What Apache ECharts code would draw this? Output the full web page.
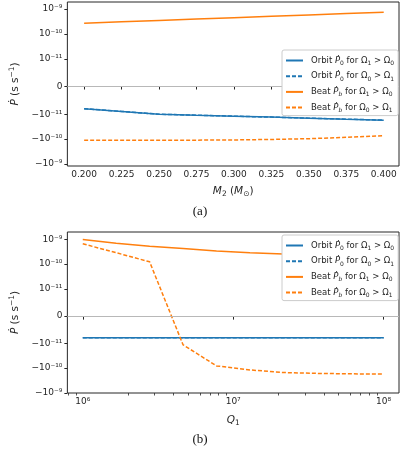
<!DOCTYPE html>
<html>
<head>
<meta charset="utf-8">
<script src="https://cdn.jsdelivr.net/npm/echarts@6/dist/echarts.min.js"></script>
<style>
html, body { margin: 0; padding: 0; background: #fff; }
#chart { width: 400px; height: 453px; }
</style>
</head>
<body>
<div id="chart"></div>
<script>
// panel (a): Pdot against M2
const m2 = [0.2, 0.225, 0.25, 0.275, 0.3, 0.325, 0.35, 0.375, 0.4];
const orbitA1 = [-8.0e-12, -9.0e-12, -1.0e-11, -1.1e-11, -1.2e-11, -1.31e-11, -1.44e-11, -1.58e-11, -1.73e-11];
const orbitA0 = [-8.0e-12, -9.0e-12, -1.0e-11, -1.1e-11, -1.2e-11, -1.31e-11, -1.44e-11, -1.58e-11, -1.73e-11];
const beatA1 = [2.7e-10, 3.06e-10, 3.48e-10, 3.95e-10, 4.48e-10, 5.09e-10, 5.77e-10, 6.55e-10, 7.4e-10];
const beatA0 = [-1.1e-10, -1.1e-10, -1.11e-10, -1.1e-10, -1.08e-10, -1.03e-10, -9.6e-11, -8.5e-11, -7.3e-11];

// panel (b): Pdot against Q1
const q1 = [1e6, 1.668e6, 2.783e6, 4.642e6, 7.743e6, 1.292e7, 2.154e7, 3.594e7, 5.995e7, 1e8];
const orbitB1 = [-7.9e-12, -7.9e-12, -7.9e-12, -7.9e-12, -7.9e-12, -7.9e-12, -7.9e-12, -7.9e-12, -7.9e-12, -7.9e-12];
const orbitB0 = [-7.9e-12, -7.9e-12, -7.9e-12, -7.9e-12, -7.9e-12, -7.9e-12, -7.9e-12, -7.9e-12, -7.9e-12, -7.9e-12];
const beatB1 = [1.0e-9, 7.0e-10, 5.3e-10, 4.3e-10, 3.4e-10, 2.9e-10, 2.6e-10, 2.35e-10, 2.2e-10, 2.05e-10];
const beatB0 = [6.7e-10, 2.9e-10, 1.24e-10, -1.13e-11, -8.1e-11, -1.18e-10, -1.51e-10, -1.63e-10, -1.7e-10, -1.74e-10];

// tick labels
const m2Ticks = [0.2, 0.225, 0.25, 0.275, 0.3, 0.325, 0.35, 0.375, 0.4];
const q1Ticks = [1e6, 1e7, 1e8];
const q1TickLabels = ['10⁶', '10⁷', '10⁸'];
const q1Minor = [8e5, 9e5, 2e6, 3e6, 4e6, 5e6, 6e6, 7e6, 8e6, 9e6, 2e7, 3e7, 4e7, 5e7, 6e7, 7e7, 8e7, 9e7];
const yTicks = [-1e-9, -1e-10, -1e-11, 0, 1e-11, 1e-10, 1e-9];
const yTickLabels = ['−10⁻⁹', '−10⁻¹⁰', '−10⁻¹¹', '0', '10⁻¹¹', '10⁻¹⁰', '10⁻⁹'];

// matplotlib style symlog, linthresh 1e-11, linscale 1
const LIN = 1e-11, LSC = 1 / 0.9;
function symlog(v) {
    const a = Math.abs(v);
    if (a <= LIN) return v / LIN * LSC;
    return Math.sign(v) * (LSC + Math.log10(a / LIN));
}
const yPos = yTicks.map(symlog);

const BLUE = '#1f77b4', ORANGE = '#ff7f0e', INK = '#262626';
const FONT = 'DejaVu Sans';

const rich = {
    t: { fontFamily: FONT, fontSize: 8.5, color: INK, lineHeight: 12 },
    i: { fontFamily: FONT, fontSize: 8.5, color: INK, lineHeight: 12, fontStyle: 'italic' },
    s: { fontFamily: FONT, fontSize: 6, color: INK, lineHeight: 6, verticalAlign: 'bottom' },
    si: { fontFamily: FONT, fontSize: 6, color: INK, lineHeight: 6, verticalAlign: 'bottom', fontStyle: 'italic' }
};
const legendText = {
    'orbit1': '{t|Orbit }{i|Ṗ}{s|0}{t| for Ω}{s|1}{t| > Ω}{s|0}',
    'orbit0': '{t|Orbit }{i|Ṗ}{s|0}{t| for Ω}{s|0}{t| > Ω}{s|1}',
    'beat1': '{t|Beat }{i|Ṗ}{si|b}{t| for Ω}{s|1}{t| > Ω}{s|0}',
    'beat0': '{t|Beat }{i|Ṗ}{si|b}{t| for Ω}{s|0}{t| > Ω}{s|1}'
};

const nameRich = {
    t: { fontFamily: FONT, fontSize: 10.5, color: INK, lineHeight: 14 },
    i: { fontFamily: FONT, fontSize: 10.5, color: INK, lineHeight: 14, fontStyle: 'italic' },
    s: { fontFamily: FONT, fontSize: 7.5, color: INK, lineHeight: 8, verticalAlign: 'bottom' },
    sup: { fontFamily: FONT, fontSize: 7.5, color: INK, lineHeight: 8, verticalAlign: 'top' }
};

function line(name, xs, ys, color, dashed, idx) {
    return {
        type: 'line', name: name, xAxisIndex: idx, yAxisIndex: idx,
        data: xs.map((x, k) => [x, symlog(ys[k])]),
        symbol: 'none', animation: false,
        lineStyle: { color: color, width: 1.5, type: dashed ? [4, 2] : 'solid' },
        itemStyle: { color: color }
    };
}

function zeroLine(s) {
    s.markLine = {
        silent: true, symbol: 'none', animation: false,
        label: { show: false },
        lineStyle: { color: '#b8b8b8', width: 1.2, type: 'solid' },
        data: [{ yAxis: 0 }]
    };
    return s;
}

function yAxis(idx, min, max) {
    return {
        type: 'value', gridIndex: idx, min: min, max: max,
        name: '{i|Ṗ}{t| (s s}{sup|−1}{t|)}',
        nameLocation: 'middle', nameGap: 41, nameRotate: 90,
        nameTextStyle: { rich: nameRich },
        axisLine: { show: false },
        splitLine: { show: false },
        axisTick: { customValues: yPos, length: 3, lineStyle: { color: INK } },
        axisLabel: {
            customValues: yPos, margin: 5, fontFamily: FONT, fontSize: 9, color: INK,
            formatter: v => {
                const k = yPos.findIndex(p => Math.abs(p - v) < 1e-6);
                return k < 0 ? '' : yTickLabels[k];
            }
        }
    };
}

function legend(top) {
    return {
        orient: 'vertical', left: 282, top: top, z: 10,
        data: ['orbit1', 'orbit0', 'beat1', 'beat0'],
        itemWidth: 17, itemHeight: 1, itemGap: 5.2,
        itemStyle: { opacity: 0 },
        padding: [6, 4, 2, 3],
        borderColor: '#cccccc', borderWidth: 1, borderRadius: 2,
        backgroundColor: '#ffffff',
        formatter: n => legendText[n],
        textStyle: { rich: rich, padding: [0, 0, 0, 3] }
    };
}

const chart = echarts.init(document.getElementById('chart'), null, { renderer: 'canvas' });
chart.setOption({
    backgroundColor: '#fff',
    animation: false,
    grid: [
        { left: 52, top: 2, width: 347, height: 164, show: true, borderColor: INK, borderWidth: 1, backgroundColor: 'transparent' },
        { left: 54, top: 232, width: 345, height: 161, show: true, borderColor: INK, borderWidth: 1, backgroundColor: 'transparent' }
    ],
    xAxis: [
        {
            type: 'value', gridIndex: 0, min: 0.1888, max: 0.4102, position: 'bottom',
            name: '{i|M}{s|2}{t| (}{i|M}{s|⊙}{t|)}', nameLocation: 'middle', nameGap: 18,
            nameTextStyle: { rich: nameRich },
            axisLine: { show: false }, splitLine: { show: false },
            axisTick: { customValues: m2Ticks, length: 3, lineStyle: { color: INK } },
            axisLabel: { customValues: m2Ticks, margin: 4, fontFamily: FONT, fontSize: 9, color: INK, formatter: v => v.toFixed(3) }
        },
        {
            type: 'log', logBase: 10, gridIndex: 1, min: 7.9e5, max: 1.265e8, position: 'bottom',
            name: '{i|Q}{s|1}', nameLocation: 'middle', nameGap: 20,
            nameTextStyle: { rich: nameRich },
            axisLine: { show: false }, splitLine: { show: false }, minorTick: { show: false },
            axisTick: { customValues: q1Ticks, length: 3.5, lineStyle: { color: INK } },
            axisLabel: {
                customValues: q1Ticks, margin: 4, fontFamily: FONT, fontSize: 9, color: INK,
                formatter: v => {
                    const k = q1Ticks.findIndex(p => Math.abs(Math.log10(p) - Math.log10(v)) < 1e-6);
                    return k < 0 ? '' : q1TickLabels[k];
                }
            }
        },
        {
            type: 'log', logBase: 10, gridIndex: 1, min: 7.9e5, max: 1.265e8, position: 'bottom',
            axisLine: { show: false }, splitLine: { show: false },
            axisLabel: { show: false },
            axisTick: { customValues: q1Minor, length: 2.5, lineStyle: { color: INK, width: 0.8 } }
        }
    ],
    yAxis: [yAxis(0, -3.19, 3.392), yAxis(1, -3.12, 3.415)],
    legend: [legend(50), legend(235)],
    series: [
        zeroLine(line('orbit1', m2, orbitA1, BLUE, false, 0)),
        line('orbit0', m2, orbitA0, BLUE, true, 0),
        line('beat1', m2, beatA1, ORANGE, false, 0),
        line('beat0', m2, beatA0, ORANGE, true, 0),
        zeroLine(line('orbit1', q1, orbitB1, BLUE, false, 1)),
        line('orbit0', q1, orbitB0, BLUE, true, 1),
        line('beat1', q1, beatB1, ORANGE, false, 1),
        line('beat0', q1, beatB0, ORANGE, true, 1)
    ],
    graphic: [
        { type: 'text', left: 'center', top: 205, style: { text: '(a)', font: '13px "Liberation Serif"', fill: '#111' } },
        { type: 'text', left: 'center', top: 433, style: { text: '(b)', font: '13px "Liberation Serif"', fill: '#111' } }
    ]
});
</script>
</body>
</html>
